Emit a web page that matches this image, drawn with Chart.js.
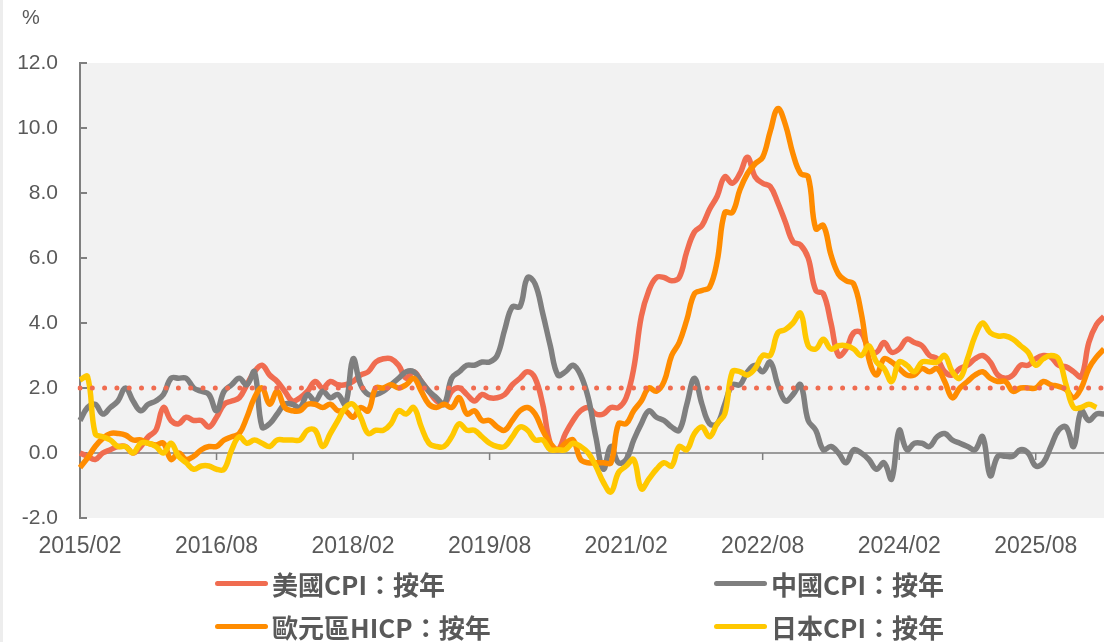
<!DOCTYPE html>
<html>
<head>
<meta charset="utf-8">
<script src="https://cdn.jsdelivr.net/npm/chart.js@4.4.1/dist/chart.umd.min.js"></script>
<style>
  body { margin: 0; background: #fff; }
  #wrap { position: relative; width: 1104px; height: 642px; background: #fff; overflow: hidden; }
  #wrap:before { content: ""; position: absolute; left: 0; top: 0; width: 3px; height: 642px; background: #ededed; }
  #pct { position: absolute; left: 22px; top: 6px; font: 20px "Liberation Sans", Arial, sans-serif; color: #595959; }
  .lg { position: absolute; display: flex; align-items: center; font: bold 26px "Noto Sans CJK TC", sans-serif; color: #595959; white-space: nowrap; }
  .lg i { display: inline-block; width: 53px; height: 5px; border-radius: 3px; margin-right: 4px; }
</style>
</head>
<body>
<div id="wrap">
  <canvas id="cpiChart" width="1104" height="642"></canvas>
  <div id="pct">%</div>
</div>
<script>
// monthly, first point 2015/02
const START_YEAR = 2015, START_MONTH = 2, N_MONTHS = 136;
const TICK_LABELS = ["2015/02", "2016/08", "2018/02", "2019/08", "2021/02", "2022/08", "2024/02", "2025/08"];

const SERIES_NAMES = ["美國CPI：按年", "中國CPI：按年", "歐元區HICP：按年", "日本CPI：按年"];
const COLORS = ["#f06c50", "#7f7f7f", "#ff8c00", "#ffc800"];
const TARGET = 2.0;

const usCpi = [
  0.0, -0.1, -0.2, 0.0, 0.1, 0.2, 0.2, 0.0, 0.2, 0.5, 0.7,
  1.4, 1.0, 0.9, 1.1, 1.0, 1.0, 0.8, 1.1, 1.5, 1.6, 1.7, 2.1,
  2.5, 2.7, 2.4, 2.2, 1.9, 1.6, 1.7, 1.9, 2.2, 2.0, 2.2, 2.1,
  2.1, 2.2, 2.4, 2.5, 2.8, 2.9, 2.9, 2.7, 2.3, 2.5, 2.2, 1.9,
  1.6, 1.5, 1.9, 2.0, 1.8, 1.6, 1.8, 1.7, 1.7, 1.8, 2.1, 2.3,
  2.5, 2.3, 1.5, 0.3, 0.1, 0.6, 1.0, 1.3, 1.4, 1.2, 1.2, 1.4,
  1.4, 1.7, 2.6, 4.2, 5.0, 5.4, 5.4, 5.3, 5.4, 6.2, 6.8, 7.0,
  7.5, 7.9, 8.5, 8.3, 8.6, 9.1, 8.5, 8.3, 8.2, 7.7, 7.1, 6.5,
  6.4, 6.0, 5.0, 4.9, 4.0, 3.0, 3.2, 3.7, 3.7, 3.2, 3.1, 3.4,
  3.1, 3.2, 3.5, 3.4, 3.3, 3.0, 2.9, 2.5, 2.4, 2.6, 2.7, 2.9,
  3.0, 2.8, 2.4, 2.3, 2.4, 2.7, 2.7, 2.9, 3.0, 2.95, 2.7, 2.65,
  2.5, 2.35, 3.4, 3.95, 4.2
];

const chinaCpi = [
  1.0, 1.4, 1.5, 1.2, 1.4, 1.6, 2.0, 1.6, 1.3, 1.5, 1.6,
  1.8, 2.3, 2.3, 2.3, 2.0, 1.9, 1.8, 1.3, 1.9, 2.1, 2.3, 2.1,
  2.5, 0.8, 0.9, 1.2, 1.5, 1.5, 1.4, 1.8, 1.6, 1.9, 1.7, 1.8,
  1.5, 2.9, 2.1, 1.8, 1.8, 1.9, 2.1, 2.3, 2.5, 2.5, 2.2, 1.9,
  1.7, 1.5, 2.3, 2.5, 2.7, 2.7, 2.8, 2.8, 3.0, 3.8, 4.5, 4.5,
  5.4, 5.2, 4.3, 3.3, 2.4, 2.5, 2.7, 2.4, 1.7, 0.5, -0.5, 0.2,
  -0.3, -0.2, 0.4, 0.9, 1.3, 1.1, 1.0, 0.8, 0.7, 1.5, 2.3, 1.5,
  0.9, 0.9, 1.5, 2.1, 2.1, 2.5, 2.7, 2.5, 2.8, 2.1, 1.6, 1.8,
  2.1, 1.0, 0.7, 0.1, 0.2, 0.0, -0.3, 0.1, 0.0, -0.2, -0.5, -0.3,
  -0.8, 0.7, 0.1, 0.3, 0.3, 0.2, 0.5, 0.6, 0.4, 0.3, 0.2, 0.1,
  0.5, -0.7, -0.1, -0.1, -0.1, 0.1, 0.0, -0.4, -0.3, 0.2, 0.7, 0.8,
  0.2, 1.3, 1.0, 1.2, 1.2
];

const euroHicp = [
  -0.45, -0.15, 0.2, 0.45, 0.6, 0.6, 0.55, 0.4, 0.4, 0.3, 0.25,
  0.3, -0.2, 0.0, -0.2, -0.1, 0.1, 0.2, 0.2, 0.4, 0.5, 0.6, 1.1,
  1.7, 2.0, 1.5, 1.9, 1.4, 1.3, 1.3, 1.5, 1.5, 1.4, 1.5, 1.3,
  1.3, 1.1, 1.4, 1.3, 2.0, 2.0, 2.1, 2.0, 2.1, 2.3, 1.9, 1.5,
  1.4, 1.5, 1.4, 1.7, 1.2, 1.3, 1.0, 1.0, 0.8, 0.7, 1.0, 1.3,
  1.4, 1.2, 0.7, 0.3, 0.1, 0.3, 0.4, -0.2, -0.3, -0.3, -0.3, -0.3,
  0.9, 0.9, 1.3, 1.6, 2.0, 1.9, 2.2, 3.0, 3.4, 4.1, 4.9, 5.0,
  5.1, 5.9, 7.4, 7.4, 8.1, 8.6, 8.9, 9.1, 9.9, 10.6, 10.1, 9.2,
  8.6, 8.5, 6.9, 7.0, 6.1, 5.5, 5.3, 5.2, 4.3, 2.9, 2.4, 2.9,
  2.8, 2.6, 2.4, 2.4, 2.6, 2.5, 2.6, 2.2, 1.7, 2.0, 2.2, 2.4,
  2.5, 2.3, 2.2, 2.2, 1.9, 2.0, 2.0, 2.0, 2.2, 2.1, 2.05, 1.95,
  1.7, 2.0, 2.6, 2.95, 3.2
];

const japanCpi = [
  2.25, 2.35, 0.6, 0.5, 0.4, 0.2, 0.2, 0.0, 0.3, 0.3, 0.2,
  0.0, 0.3, -0.1, -0.3, -0.5, -0.4, -0.4, -0.5, -0.5, 0.1, 0.5, 0.3,
  0.4, 0.3, 0.2, 0.4, 0.4, 0.4, 0.4, 0.7, 0.7, 0.2, 0.6, 1.0,
  1.4, 1.5, 1.1, 0.6, 0.7, 0.7, 0.9, 1.3, 1.2, 1.4, 0.8, 0.3,
  0.2, 0.2, 0.5, 0.9, 0.7, 0.7, 0.5, 0.3, 0.2, 0.2, 0.5, 0.8,
  0.7, 0.4, 0.4, 0.1, 0.1, 0.1, 0.3, 0.2, 0.0, -0.4, -0.9, -1.2,
  -0.6, -0.4, -0.2, -1.1, -0.8, -0.5, -0.3, -0.4, 0.2, 0.1, 0.6, 0.8,
  0.5, 0.9, 1.2, 2.5, 2.5, 2.4, 2.6, 3.0, 3.0, 3.7, 3.8, 4.0,
  4.3, 3.3, 3.2, 3.5, 3.2, 3.3, 3.3, 3.2, 3.0, 3.3, 2.8, 2.6,
  2.2, 2.8, 2.7, 2.5, 2.8, 2.8, 2.8, 3.0, 2.5, 2.3, 2.9, 3.6,
  4.0, 3.7, 3.6, 3.6, 3.5, 3.3, 3.1, 2.7, 2.9, 3.0, 2.9, 2.1,
  1.4, 1.4, 1.5, 1.4, null
];

const labels = [];
for (let k = 0; k < N_MONTHS; k++) {
  const m = START_MONTH - 1 + k;
  const yy = START_YEAR + Math.floor(m / 12);
  const mm = (m % 12) + 1;
  labels.push(yy + "/" + String(mm).padStart(2, "0"));
}
const targetLine = labels.map(() => TARGET);

const textColor = "#595959";
const axisColor = "#7f7f7f";

// plot background, zero line and the inward tick marks
const axisDecor = {
  id: "axisDecor",
  beforeDraw(chart) {
    const { ctx, chartArea: a } = chart;
    ctx.save();
    ctx.fillStyle = "#f2f2f2";
    ctx.fillRect(a.left + 1, a.top, a.right - a.left, a.bottom - a.top);
    ctx.restore();
  },
  beforeDatasetsDraw(chart) {
    const { ctx, chartArea: a, scales } = chart;
    const y0 = scales.y.getPixelForValue(0);
    ctx.save();
    ctx.strokeStyle = axisColor;
    ctx.lineWidth = 1.5;
    ctx.beginPath();
    ctx.moveTo(a.left, y0);
    ctx.lineTo(a.right, y0);
    labels.forEach((l, i) => {
      if (TICK_LABELS.includes(l) && i > 0) {
        const px = scales.x.getPixelForValue(i);
        ctx.moveTo(px, y0);
        ctx.lineTo(px, y0 + 7);
      }
    });
    ctx.stroke();
    ctx.lineWidth = 2;
    ctx.beginPath();
    scales.y.ticks.forEach(t => {
      const py = scales.y.getPixelForValue(t.value);
      ctx.moveTo(a.left, py);
      ctx.lineTo(a.left + 7, py);
    });
    ctx.stroke();
    ctx.restore();
  }
};

const seriesData = [usCpi, chinaCpi, euroHicp, japanCpi];
const datasets = seriesData.map((d, k) => ({
  label: SERIES_NAMES[k],
  data: d,
  borderColor: COLORS[k],
  borderWidth: 5.5,
  pointRadius: 0,
  tension: 0.4,
  fill: false,
  order: 4 - k
}));
datasets.push({
  label: "2%",
  data: targetLine,
  borderColor: COLORS[0],
  borderWidth: 5,
  borderDash: [0, 12.3],
  borderCapStyle: "round",
  pointRadius: 0,
  fill: false,
  order: 0
});

const ctx = document.getElementById("cpiChart").getContext("2d");
const chart = new Chart(ctx, {
  type: "line",
  data: { labels: labels, datasets: datasets },
  options: {
    responsive: false,
    animation: false,
    devicePixelRatio: 1,
    layout: { padding: { top: 63, right: 0, bottom: 0, left: 0 } },
    plugins: { legend: { display: false }, tooltip: { enabled: false } },
    scales: {
      x: {
        grid: { display: false, drawTicks: false },
        border: { display: false },
        afterFit(scale) { scale.height = 124; },
        ticks: {
          autoSkip: false,
          maxRotation: 0,
          padding: 15,
          color: textColor,
          font: { family: "Liberation Sans", size: 23 },
          callback(v, i) { return TICK_LABELS.includes(labels[i]) ? labels[i] : null; }
        }
      },
      y: {
        min: -2, max: 12,
        grid: { display: false, drawTicks: false },
        border: { display: true, color: axisColor, width: 2 },
        afterFit(scale) { scale.width = 80; },
        ticks: {
          stepSize: 2,
          padding: 22,
          color: textColor,
          font: { family: "Liberation Sans", size: 21 },
          callback: v => v.toFixed(1)
        }
      }
    }
  },
  plugins: [axisDecor]
});

// legend, two columns
const wrap = document.getElementById("wrap");
const legendPos = [[215, 584], [714, 584], [215, 627], [714, 627]];
SERIES_NAMES.forEach((name, k) => {
  const el = document.createElement("div");
  el.className = "lg";
  el.style.left = legendPos[k][0] + "px";
  el.style.top = (legendPos[k][1] - 19) + "px";
  el.innerHTML = '<i style="background:' + COLORS[k] + '"></i>' + name;
  wrap.appendChild(el);
});
</script>
</body>
</html>
